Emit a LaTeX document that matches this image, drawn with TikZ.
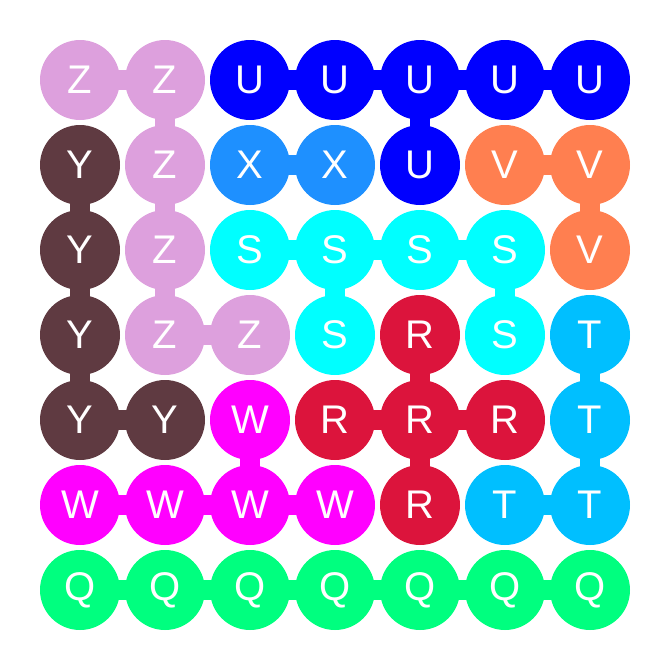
\documentclass[tikz,border=0pt]{standalone}
\usepackage{fontspec}
\setmainfont{Liberation Sans}
\usetikzlibrary{backgrounds}
\definecolor{cZ}{HTML}{DDA0DD}
\definecolor{cU}{HTML}{0000FF}
\definecolor{cY}{HTML}{5F3A41}
\definecolor{cX}{HTML}{1E90FF}
\definecolor{cV}{HTML}{FF7F50}
\definecolor{cS}{HTML}{00FFFF}
\definecolor{cR}{HTML}{DC143C}
\definecolor{cT}{HTML}{00BFFF}
\definecolor{cW}{HTML}{FF00FF}
\definecolor{cQ}{HTML}{00FF7F}
\tikzset{
  cell/.style={circle, minimum size=80pt, inner sep=0pt, text=white, font=\fontsize{40}{40}\selectfont},
  link/.style={line width=20pt}
}
\begin{document}
\begin{tikzpicture}[x=1pt,y=-1pt]
\useasboundingbox (0,0) rectangle (670,670);
% nodes
\foreach \rowlist [count=\r from 0] in {
  {Z,Z,U,U,U,U,U},
  {Y,Z,X,X,U,V,V},
  {Y,Z,S,S,S,S,V},
  {Y,Z,Z,S,R,S,T},
  {Y,Y,W,R,R,R,T},
  {W,W,W,W,R,T,T},
  {Q,Q,Q,Q,Q,Q,Q}}{
  \foreach \L [count=\k from 0] in \rowlist {
    \node[cell, fill=c\L] (n\r-\k) at (80+85*\k,80+85*\r) {\L};
  }
}
% connectors beneath nodes
\begin{scope}[on background layer]
\foreach \p/\q/\c in {
  0-0/0-1/cZ, 0-2/0-3/cU, 0-3/0-4/cU, 0-4/0-5/cU, 0-5/0-6/cU,
  1-2/1-3/cX, 1-5/1-6/cV,
  2-2/2-3/cS, 2-3/2-4/cS, 2-4/2-5/cS,
  3-1/3-2/cZ,
  4-0/4-1/cY, 4-3/4-4/cR, 4-4/4-5/cR,
  5-0/5-1/cW, 5-1/5-2/cW, 5-2/5-3/cW, 5-5/5-6/cT,
  6-0/6-1/cQ, 6-1/6-2/cQ, 6-2/6-3/cQ, 6-3/6-4/cQ, 6-4/6-5/cQ, 6-5/6-6/cQ,
  0-1/1-1/cZ, 1-1/2-1/cZ, 2-1/3-1/cZ,
  0-4/1-4/cU,
  1-0/2-0/cY, 2-0/3-0/cY, 3-0/4-0/cY,
  1-6/2-6/cV,
  2-3/3-3/cS, 2-5/3-5/cS,
  3-4/4-4/cR, 4-4/5-4/cR,
  3-6/4-6/cT, 4-6/5-6/cT,
  4-2/5-2/cW}
  {\draw[link, draw=\c] (n\p.center) -- (n\q.center);}
\end{scope}
\end{tikzpicture}
\end{document}
